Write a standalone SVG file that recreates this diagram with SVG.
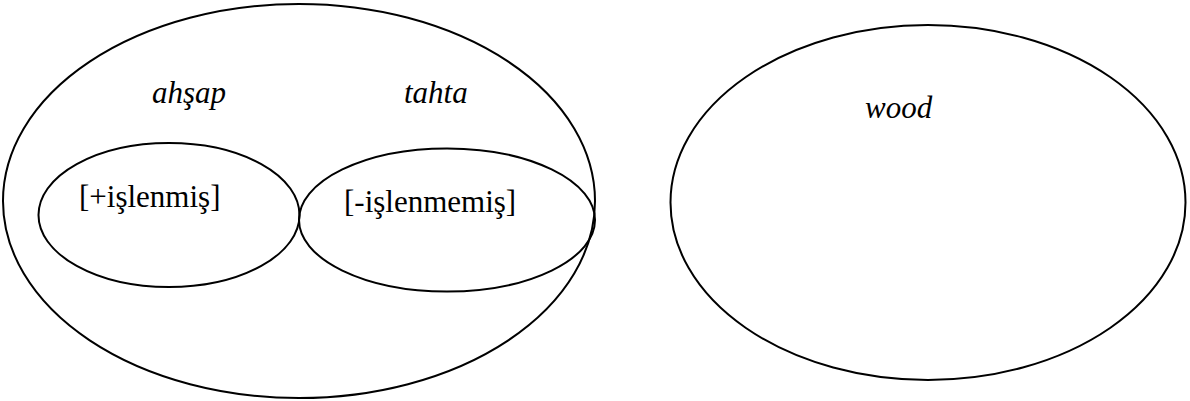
<svg xmlns="http://www.w3.org/2000/svg" width="1190" height="401" viewBox="0 0 1190 401">
  <style>
    .set { fill: none; stroke: #000; stroke-width: 2; }
    .lbl { font-family: "Liberation Serif", "Times New Roman", serif; font-size: 31px; fill: #000; }
    .it { font-style: italic; }
  </style>
  <rect width="1190" height="401" fill="#fff"/>
  <!-- Turkish: outer set with two subsets -->
  <g id="turkish-set">
    <ellipse class="set" cx="299" cy="201" rx="296" ry="197"/>
    <text class="lbl it" x="152" y="103">ahşap</text>
    <text class="lbl it" x="404" y="103">tahta</text>
  </g>
  <g id="islenmis">
    <ellipse class="set" cx="169" cy="215" rx="130.5" ry="72"/>
    <text class="lbl" x="79" y="207">[+işlenmiş]</text>
  </g>
  <g id="islenmemis">
    <ellipse class="set" cx="447" cy="220" rx="148" ry="71.5"/>
    <text class="lbl" x="344" y="212">[-işlenmemiş]</text>
  </g>
  <!-- English: single undivided set -->
  <g id="english-set">
    <ellipse class="set" cx="928" cy="202.5" rx="257.5" ry="177.5"/>
    <text class="lbl it" x="865" y="118">wood</text>
  </g>
  <g id="connectors"/>
</svg>
